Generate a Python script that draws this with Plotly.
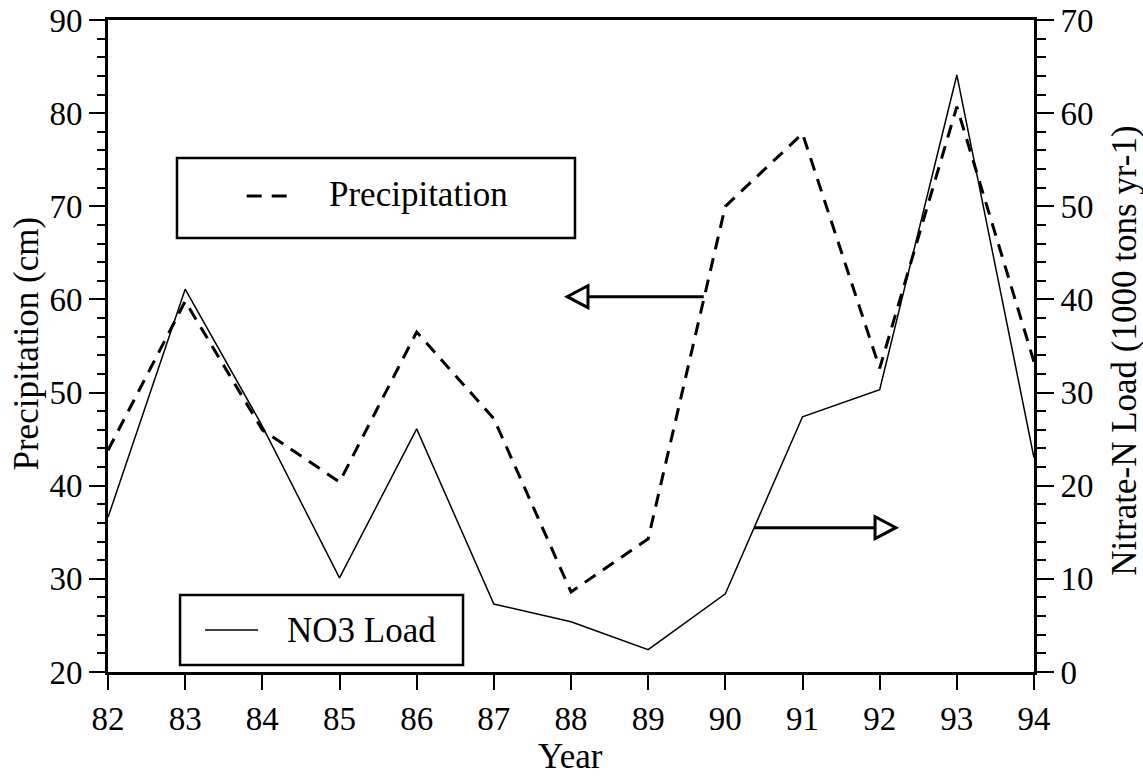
import plotly.graph_objects as go

years = [82, 83, 84, 85, 86, 87, 88, 89, 90, 91, 92, 93, 94]
year_labels = [str(y) for y in years]
precip_cm = [43.8, 59.8, 46.0, 40.4, 56.5, 47.2, 28.6, 34.3, 70.0, 77.8, 52.6, 80.7, 53.3]
no3_load = [16.6, 41.1, 26.4, 10.1, 26.1, 7.3, 5.4, 2.4, 8.4, 27.4, 30.3, 64.1, 23.0]

left_ticks = [20, 30, 40, 50, 60, 70, 80, 90]
right_ticks = [0, 10, 20, 30, 40, 50, 60, 70]

# arrows: (y value, start year, tip year)
arrow_precip = {"y": 60.3, "x0": 89.72, "tip": 87.95}
arrow_no3 = {"y": 15.5, "x0": 90.37, "tip": 92.21}

FONT = "Liberation Serif, Times New Roman, serif"
BLACK = "#000000"

fig = go.Figure()
fig.add_trace(go.Scatter(x=years, y=precip_cm, mode="lines", name="Precipitation",
                         line=dict(color=BLACK, width=3, dash="13px,9px"), yaxis="y"))
fig.add_trace(go.Scatter(x=years, y=no3_load, mode="lines", name="NO3 Load",
                         line=dict(color=BLACK, width=1.5), yaxis="y2"))

shapes = []
# arrow shafts and open triangle heads (head length ~0.27 yr, half-height ~1.18 units)
hl, hh = 0.27, 1.18
for arr, yref, sign in [(arrow_precip, "y", -1), (arrow_no3, "y2", 1)]:
    base = arr["tip"] - sign * hl
    shapes.append(dict(type="line", xref="x", yref=yref, x0=arr["x0"], x1=base,
                       y0=arr["y"], y1=arr["y"], line=dict(color=BLACK, width=3)))
    path = (f"M {base},{arr['y'] - hh} L {arr['tip']},{arr['y']} "
            f"L {base},{arr['y'] + hh} Z")
    shapes.append(dict(type="path", xref="x", yref=yref, path=path,
                       line=dict(color=BLACK, width=3), fillcolor="white"))

# legend boxes
shapes.append(dict(type="rect", xref="paper", yref="paper", x0=0.0745, x1=0.5043,
                   y0=0.6656, y1=0.7883, line=dict(color=BLACK, width=2.5), fillcolor="white"))
shapes.append(dict(type="line", xref="paper", yref="paper", x0=0.1498, x1=0.193,
                   y0=0.730, y1=0.730, line=dict(color=BLACK, width=3, dash="15px,10px")))
shapes.append(dict(type="rect", xref="paper", yref="paper", x0=0.0778, x1=0.3834,
                   y0=0.0107, y1=0.1181, line=dict(color=BLACK, width=2.5), fillcolor="white"))
shapes.append(dict(type="line", xref="paper", yref="paper", x0=0.1048, x1=0.162,
                   y0=0.0644, y1=0.0644, line=dict(color=BLACK, width=1.5)))

annotations = [
    dict(text="Precipitation", xref="paper", yref="paper", x=0.2365, y=0.733,
         xanchor="left", yanchor="middle", showarrow=False, font=dict(size=35, family=FONT, color=BLACK)),
    dict(text="NO3 Load", xref="paper", yref="paper", x=0.1911, y=0.0644,
         xanchor="left", yanchor="middle", showarrow=False, font=dict(size=35, family=FONT, color=BLACK)),
    dict(text="Year", xref="paper", yref="paper", x=0.499, y=-0.130,
         xanchor="center", yanchor="middle", showarrow=False, font=dict(size=35, family=FONT, color=BLACK)),
    dict(text="Precipitation (cm)", xref="paper", yref="paper", x=-0.0875, y=0.5038,
         xanchor="center", yanchor="middle", textangle=-90, showarrow=False,
         font=dict(size=35, family=FONT, color=BLACK)),
    dict(text="Nitrate-N Load (1000 tons yr-1)", xref="paper", yref="paper", x=1.0973, y=0.493,
         xanchor="center", yanchor="middle", textangle=-90, showarrow=False,
         font=dict(size=35, family=FONT, color=BLACK)),
]

fig.update_layout(
    width=1143, height=777, autosize=False,
    margin=dict(l=108, r=109, t=20, b=105, pad=0, autoexpand=False),
    paper_bgcolor="white", plot_bgcolor="white",
    showlegend=False,
    font=dict(family=FONT, color=BLACK, size=33),
    shapes=shapes, annotations=annotations,
    xaxis=dict(range=[82, 94], tickvals=years, ticktext=year_labels, automargin=False,
               ticks="outside", ticklen=15, tickwidth=2, tickcolor=BLACK,
               showline=True, linecolor=BLACK, linewidth=3, mirror=True,
               showgrid=False, zeroline=False, tickfont=dict(size=33, family=FONT)),
    yaxis=dict(range=[20, 90], tickvals=left_ticks, automargin=False,
               ticks="outside", ticklen=16, tickwidth=2, tickcolor=BLACK,
               minor=dict(dtick=2, ticks="outside", ticklen=8, tickwidth=2, tickcolor=BLACK),
               showline=True, linecolor=BLACK, linewidth=3,
               showgrid=False, zeroline=False, tickfont=dict(size=33, family=FONT)),
    yaxis2=dict(range=[0, 70], tickvals=right_ticks, overlaying="y", side="right", automargin=False,
                ticks="outside", ticklen=17, tickwidth=2, tickcolor=BLACK,
                minor=dict(dtick=2, ticks="outside", ticklen=9, tickwidth=2, tickcolor=BLACK),
                showline=True, linecolor=BLACK, linewidth=3,
                showgrid=False, zeroline=False, tickfont=dict(size=33, family=FONT)),
)

fig.write_html("out.html", config={"displayModeBar": False},
               post_script="document.body.style.margin='0';document.body.style.overflow='hidden';")
